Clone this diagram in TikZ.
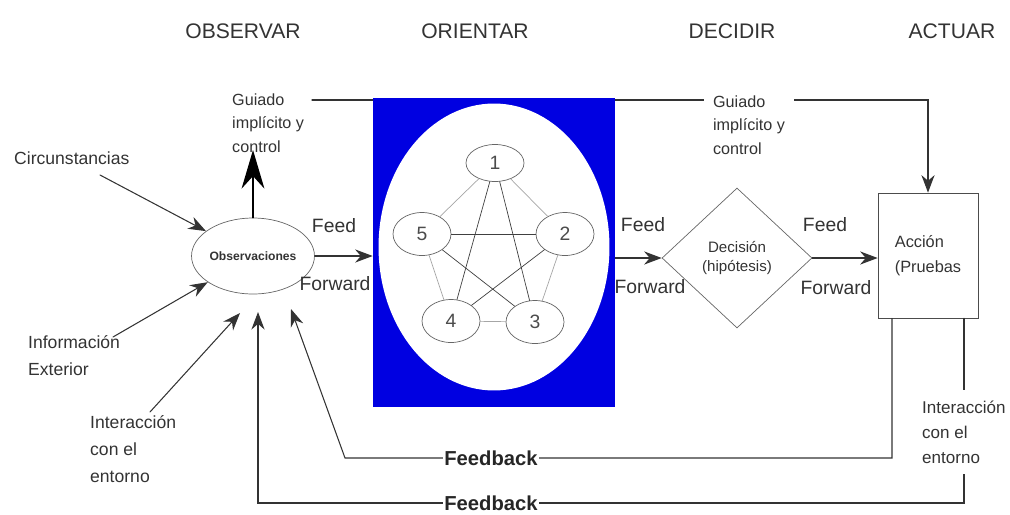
\documentclass[tikz,border=0pt]{standalone}
\usepackage{fontspec}
\setmainfont{Liberation Sans}
\usetikzlibrary{shapes.geometric,arrows.meta}
\definecolor{oodablue}{RGB}{0,0,225}

\begin{document}
\begin{tikzpicture}
	[x=0.02cm,y=-0.02cm,line cap=round,
	%Styles
	title/.style={font=\fontsize{12}{14}\selectfont,text=black!80},
	small text/.style={font=\fontsize{9.2}{13.3}\selectfont,align=left,anchor=west,text=black!80},
	side text/.style={font=\fontsize{10}{15.3}\selectfont,align=left,anchor=west,text=black!80},
	feed text/.style={font=\fontsize{11}{13}\selectfont,text=black!80},
	feedback/.style={font=\fontsize{11.5}{13}\selectfont\bfseries,fill=white,inner xsep=1pt,text=black!85},
	flow/.style={semithick,black!80,-{Stealth[length=10pt,width=7.5pt]}},
	big flow/.style={thick,black,-{Stealth[length=22pt,width=13pt]}},
	num/.style={ellipse,draw=black!60,thin,minimum width=1.16cm,minimum height=0.86cm,inner sep=0pt,font=\fontsize{11}{13}\selectfont,text=black!70},
	outer edge/.style={black!35,thin},
	star edge/.style={black!75,thin}
	]
	
	\useasboundingbox (0,0) rectangle (1010,514);
	
	%Titles
	\node[title] (tObs) at (243,31) {OBSERVAR};
	\node[title] (tOri) at (475,31) {ORIENTAR};
	\node[title] (tDec) at (732,31) {DECIDIR};
	\node[title] (tAct) at (952,31) {ACTUAR};
	
	%The graphic
	\node[ellipse,draw=black!60,minimum width=2.2cm,minimum height=1.52cm,inner sep=0pt,
		font=\fontsize{6.9}{8}\selectfont\bfseries,text=black!80] (obs) at (253,256) {Observaciones};
	\node[fill=oodablue,minimum width=4.84cm,minimum height=6.18cm,inner sep=0pt] (orient) at (494,252.5) {};
	\node[ellipse,fill=white,minimum width=4.62cm,minimum height=5.74cm,inner sep=0pt] (oval) at (494,247) {};
	\node[diamond,draw=black!60,minimum width=3cm,minimum height=2.8cm,inner sep=0pt,align=center,
		font=\fontsize{8.6}{11.3}\selectfont,text=black!80] (dec) at (737,258) {Decisión\\(hipótesis)};
	\node[draw=black!70,minimum width=2cm,minimum height=2.5cm,align=left,
		font=\fontsize{9.3}{14}\selectfont,text=black!80] (acc) at (928,255.5) {Acción\\(Pruebas};
	
	%Orientation graph
	\node[num,minimum height=0.74cm] (n1) at (495,163) {1};
	\node[num] (n2) at (565,234) {2};
	\node[num] (n3) at (535,322) {3};
	\node[num] (n4) at (451,321) {4};
	\node[num] (n5) at (422,234) {5};
	\foreach \a/\b in {1/2,2/3,3/4,4/5,5/1} \draw[outer edge] (n\a) -- (n\b);
	\foreach \a/\b in {1/3,3/5,5/2,2/4,4/1} \draw[star edge] (n\a) -- (n\b);
	
	%Guidance line
	\coordinate (gl) at (312,100);
	\draw[semithick,black!80] (gl) -- (gl -| orient.west);
	\draw[flow] (orient.east |- gl) -| (acc.north);
	\node[small text] (guiL) at (226,123) {Guiado\\implícito y\\control};
	\node[small text,fill=white,inner xsep=5pt] (guiR) at (704,125) {Guiado\\implícito y\\control};
	\coordinate (gu) at (253,150);
	\draw[big flow] (obs.north) -- (gu);
	
	%Inputs
	\node[side text] (cir) at (8,158) {Circunstancias};
	\node[side text] (inf) at (22,356) {Información\\Exterior};
	\node[side text] (intL) at (84,449) {Interacción\\con el\\entorno};
	\coordinate (cirS) at (100,175);
	\coordinate (infS) at (113,337);
	\coordinate (intS) at (150,412);
	\coordinate (intT) at (240,313);
	\draw[flow] (cirS) -- (obs);
	\draw[flow] (infS) -- (obs);
	\draw[flow] (intS) -- (intT);
	
	%Feed forward
	\draw[flow] (obs.east) -- (obs.east -| orient.west);
	\draw[flow] (orient.east |- dec.west) -- (dec.west);
	\draw[flow] (dec.east) -- (dec.east -| acc.west);
	\node[feed text] (fd1) at (334,226) {Feed};
	\node[feed text] (fw1) at (335,284) {Forward};
	\node[feed text] (fd2) at (643,225) {Feed};
	\node[feed text] (fw2) at (650,287) {Forward};
	\node[feed text] (fd3) at (825,225) {Feed};
	\node[feed text] (fw3) at (836,288) {Forward};
	
	%Feedback
	\coordinate (fbA) at (892,458);
	\coordinate (fbK) at (345,458);
	\coordinate (fbT) at (291,309);
	\draw[flow] (acc.south -| fbA) -- (fbA) -- (fbK) -- (fbT);
	\coordinate (fbB) at (964,503);
	\coordinate (fbL) at (258,503);
	\coordinate (fbU) at (258,312);
	\draw[flow] (acc.south -| fbB) -- (fbB) -- (fbL) -- (fbU);
	\node[feedback] (fb1) at (491,458) {Feedback};
	\node[feedback] (fb2) at (491,503) {Feedback};
	\node[side text,fill=white,inner ysep=6pt,font=\fontsize{9.7}{14.2}\selectfont] (intR) at (916,432) {Interacción\\con el\\entorno};
\end{tikzpicture}
\end{document}
